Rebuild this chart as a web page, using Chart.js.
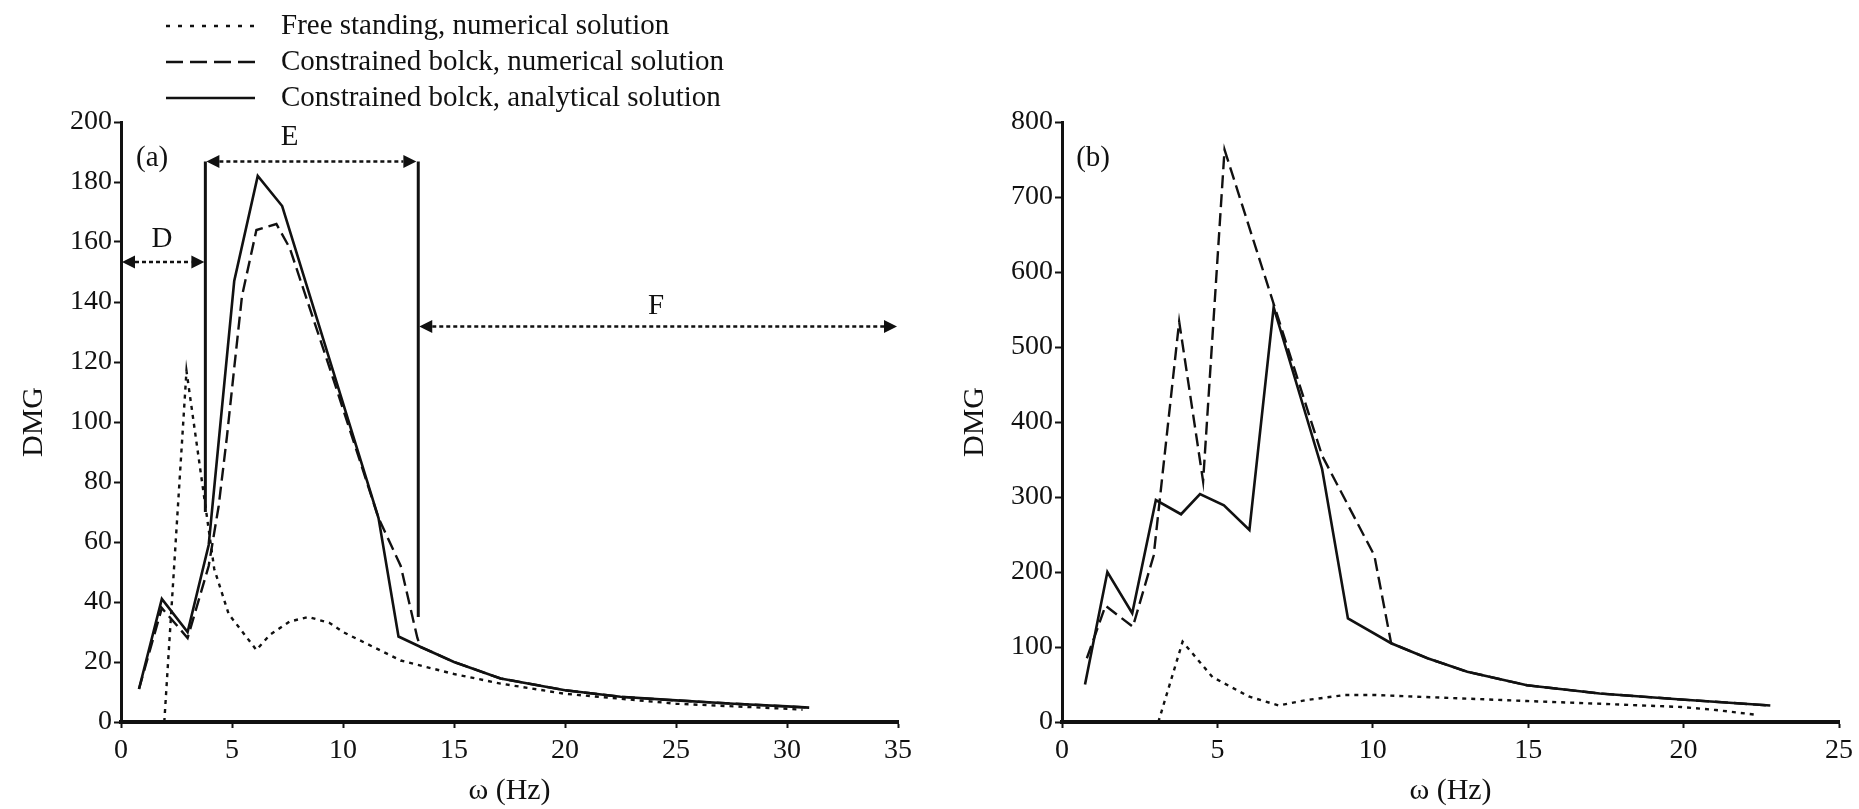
<!DOCTYPE html>
<html>
<head>
<meta charset="utf-8">
<title>DMG vs frequency</title>
<script src="https://cdn.jsdelivr.net/npm/chart.js@4.4.1/dist/chart.umd.min.js"></script>
<style>
  html, body { margin: 0; padding: 0; background: #fff; }
  .panel { position: absolute; top: 0; height: 809px; }
  #panelA { left: 0; width: 930px; }
  #panelB { left: 930px; width: 929px; }
</style>
</head>
<body>
<div class="panel" id="panelA"><canvas id="chartA"></canvas></div>
<div class="panel" id="panelB"><canvas id="chartB"></canvas></div>
<script>
/* ── data ─────────────────────────────────────────── */
// (a)
const freqA_free = [1.95, 2.95, 4.2, 4.85, 6.1, 6.7, 7.6, 8.45, 9.4, 10.0, 12.6, 15.0, 17.1, 20.0, 25.0, 30.0, 30.7];
const dmgA_free  = [0, 117, 51, 36, 24, 29, 33.5, 35, 33, 30, 20.5, 16, 12.8, 9.4, 6.1, 4.4, 4.1];

const freqA_num = [0.81, 1.84, 3.0, 3.95, 4.4, 4.77, 5.1, 5.45, 6.1, 7.0, 7.6, 9.4, 11.6, 12.6, 13.35, 13.5, 15.0, 17.1, 20.0, 22.5, 25.0, 27.6, 30.0, 31.0];
const dmgA_num  = [11, 38, 28, 52, 72, 95, 118, 142, 164, 166, 158, 118, 68, 52, 28, 25, 20, 14.5, 10.6, 8.4, 7.2, 6.1, 5.2, 4.8];

const freqA_ana = [0.81, 1.84, 3.0, 3.95, 5.1, 6.16, 7.26, 11.6, 12.5, 13.5, 15.0, 17.1, 20.0, 22.5, 25.0, 27.6, 30.0, 31.0];
const dmgA_ana  = [11, 41, 30, 59, 147, 182, 172, 68, 28.5, 25, 20, 14.5, 10.6, 8.4, 7.2, 6.1, 5.2, 4.8];

// (b)
const freqB_free = [3.1, 3.88, 4.84, 6.01, 6.97, 7.82, 9.1, 10.06, 12.5, 14.96, 17.5, 19.92, 21.04, 22.26];
const dmgB_free  = [0, 107, 60, 34, 22, 29, 36, 36, 32, 28, 24, 20, 16, 10];

const freqB_num = [0.8, 1.4, 2.28, 2.95, 3.77, 4.54, 5.23, 6.83, 8.37, 10.05, 10.59, 11.76, 13.04, 14.96, 17.3, 19.92, 22.79];
const dmgB_num  = [85, 155, 127, 222, 534, 321, 763, 555, 355, 222, 105, 85, 67, 49, 38, 30, 22];

const freqB_ana = [0.74, 1.46, 2.26, 3.02, 3.83, 4.44, 5.21, 6.03, 6.81, 8.37, 9.2, 10.59, 11.76, 13.04, 14.96, 17.3, 19.92, 22.79];
const dmgB_ana  = [50, 200, 145, 296, 277, 304, 289, 256, 553, 337, 138, 105, 85, 67, 49, 38, 30, 22];

// axes
const ticksA_x = [0, 35, 5];   // min, max, step
const ticksA_y = [0, 200, 20];
const ticksB_x = [0, 25, 5];
const ticksB_y = [0, 800, 100];

// zone markers on (a): [xFrom, xTo, y] and walls [x, yTop, yBottom]
const zoneArrowsA = [[0, 3.8, 153.3], [3.8, 13.35, 186.8], [13.39, 35, 131.8]];
const zoneWallsA  = [[3.8, 186.8, 70], [13.39, 186.8, 35]];
const zoneLabelsA = [['D', 1.84, 161], ['E', 7.6, 195], ['F', 24.1, 138.5], ['(a)', 1.4, 188]];
const zoneLabelsB = [['(b)', 1.0, 752]];

const seriesNames = [
    'Free standing, numerical solution',
    'Constrained bolck, numerical solution',
    'Constrained bolck, analytical solution'
];

/* ── styling ──────────────────────────────────────── */
const SERIF = '"Liberation Serif", "Times New Roman", serif';
const INK = '#111';
const DASHES = [[4, 5], [13, 6], []];

const pts = (xs, ys) => xs.map((x, i) => ({ x, y: ys[i] }));

function lineSet(i, xs, ys) {
    return {
        label: seriesNames[i],
        data: pts(xs, ys),
        borderColor: INK,
        borderWidth: i === 2 ? 2.6 : 2.4,
        borderDash: DASHES[i],
        pointRadius: 0,
        tension: 0,
        fill: false,
        order: 3 - i
    };
}

/* ── zone arrows / labels ─────────────────────────── */
function arrow(ctx, xa, xb, yy) {
    const h = 14, w = 6.5;
    ctx.lineWidth = 2.5;
    ctx.setLineDash([4, 3]);
    ctx.beginPath(); ctx.moveTo(xa + h, yy); ctx.lineTo(xb - h, yy); ctx.stroke();
    ctx.setLineDash([]);
    ctx.beginPath(); ctx.moveTo(xa + 1, yy); ctx.lineTo(xa + h, yy - w); ctx.lineTo(xa + h, yy + w); ctx.closePath(); ctx.fill();
    ctx.beginPath(); ctx.moveTo(xb - 1, yy); ctx.lineTo(xb - h, yy - w); ctx.lineTo(xb - h, yy + w); ctx.closePath(); ctx.fill();
}

const annotate = {
    id: 'annotate',
    afterDatasetsDraw(chart, args, opts) {
        const { ctx, scales: { x, y } } = chart;
        ctx.save();
        ctx.strokeStyle = INK; ctx.fillStyle = INK;
        (opts.walls || []).forEach(([xv, y1, y2]) => {
            ctx.lineWidth = 3; ctx.setLineDash([]);
            ctx.beginPath();
            ctx.moveTo(x.getPixelForValue(xv), y.getPixelForValue(y1));
            ctx.lineTo(x.getPixelForValue(xv), y.getPixelForValue(y2));
            ctx.stroke();
        });
        (opts.arrows || []).forEach(([xa, xb, yv]) =>
            arrow(ctx, x.getPixelForValue(xa), x.getPixelForValue(xb), y.getPixelForValue(yv)));
        ctx.font = '29px ' + SERIF;
        ctx.textAlign = 'center';
        ctx.textBaseline = 'middle';
        (opts.labels || []).forEach(([t, xv, yv]) =>
            ctx.fillText(t, x.getPixelForValue(xv), y.getPixelForValue(yv)));
        ctx.restore();
    }
};

// legend block top-left of panel (a)
const legendBlock = {
    id: 'legendBlock',
    afterDraw(chart) {
        const ctx = chart.ctx;
        const rows = [26, 62, 98];
        ctx.save();
        ctx.strokeStyle = INK; ctx.fillStyle = INK;
        ctx.font = '29px ' + SERIF;
        ctx.textBaseline = 'middle';
        rows.forEach((yy, i) => {
            ctx.lineWidth = 2.6;
            ctx.setLineDash(i === 1 ? [17, 7] : i === 0 ? [4, 8] : []);
            ctx.beginPath(); ctx.moveTo(166, yy); ctx.lineTo(255, yy); ctx.stroke();
            ctx.fillText(seriesNames[i], 281, yy);
        });
        ctx.restore();
    }
};

/* ── chart factory ────────────────────────────────── */
function makeChart(id, o) {
    const [xMin, xMax, xStep] = o.xTicks;
    const [yMin, yMax, yStep] = o.yTicks;
    const tickFont = { family: SERIF, size: 28 };
    const titleFont = { family: SERIF, size: 30 };
    return new Chart(document.getElementById(id), {
        type: 'line',
        data: { datasets: o.datasets },
        options: {
            responsive: true, maintainAspectRatio: false,
            animation: false,
            layout: { padding: { left: 0, top: 122, right: o.rightPad, bottom: 0 } },
            plugins: {
                legend: { display: false },
                tooltip: { enabled: false },
                annotate: o.notes
            },
            scales: {
                x: {
                    type: 'linear', min: xMin, max: xMax,
                    afterFit: s => { s.height = 87; },
                    ticks: { stepSize: xStep, color: INK, font: tickFont, padding: 6, maxRotation: 0, autoSkip: false },
                    grid: { drawOnChartArea: false, tickLength: 6, tickWidth: 2, tickColor: INK },
                    border: { color: INK, width: 4 },
                    title: { display: true, text: 'ω (Hz)', color: INK, font: titleFont, padding: { top: 0, bottom: 0 } }
                },
                y: {
                    min: yMin, max: yMax,
                    afterFit: s => { s.width = o.yWidth; },
                    ticks: { stepSize: yStep, color: INK, font: tickFont, padding: 2 },
                    grid: { drawOnChartArea: false, tickLength: 7, tickWidth: 2, tickColor: INK },
                    border: { color: INK, width: 3 },
                    title: { display: true, text: 'DMG', color: INK, font: titleFont, padding: { top: o.titlePad, bottom: 0 } }
                }
            }
        },
        plugins: o.plugins
    });
}

makeChart('chartA', {
    xTicks: ticksA_x, yTicks: ticksA_y, yWidth: 121, rightPad: 32, titlePad: 16,
    datasets: [
        lineSet(0, freqA_free, dmgA_free),
        lineSet(1, freqA_num, dmgA_num),
        lineSet(2, freqA_ana, dmgA_ana)
    ],
    notes: { arrows: zoneArrowsA, walls: zoneWallsA, labels: zoneLabelsA },
    plugins: [annotate, legendBlock]
});

makeChart('chartB', {
    xTicks: ticksB_x, yTicks: ticksB_y, yWidth: 132, rightPad: 15, titlePad: 27,
    datasets: [
        lineSet(0, freqB_free, dmgB_free),
        lineSet(1, freqB_num, dmgB_num),
        lineSet(2, freqB_ana, dmgB_ana)
    ],
    notes: { labels: zoneLabelsB },
    plugins: [annotate]
});
</script>
</body>
</html>
